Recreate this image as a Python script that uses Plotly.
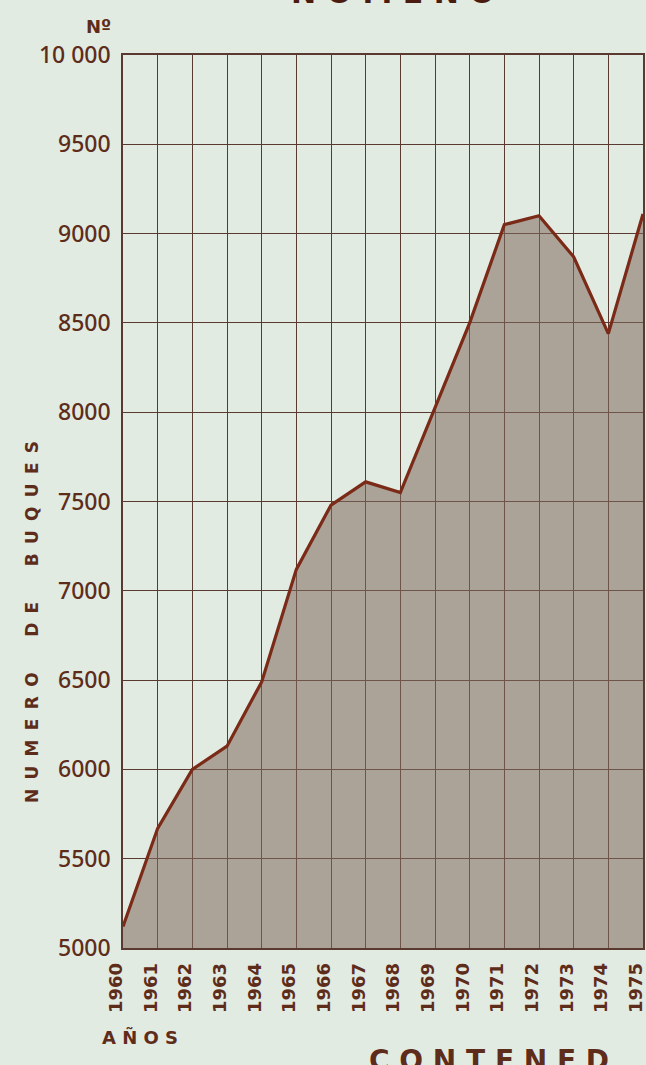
import plotly.graph_objects as go

years = list(range(1960, 1976))
buques = [5120, 5670, 6000, 6130, 6490, 7120, 7480, 7610, 7550, 8020,
          8500, 9050, 9100, 8870, 8440, 9110]
y_ticks = [5000, 5500, 6000, 6500, 7000, 7500, 8000, 8500, 9000, 9500, 10000]
y_ticktext = ["5000", "5500", "6000", "6500", "7000", "7500", "8000", "8500",
              "9000", "9500", "10 000"]
x_ticktext = [str(y) for y in years]

BG = "#e2ebe2"
BROWN = "#5e2c1a"
GRID = "#5a3a30"
LINE = "#7a2a16"

fig = go.Figure()
fig.add_trace(go.Scatter(
    x=years, y=buques, mode="lines",
    line=dict(color=LINE, width=3.2),
    fill="tozeroy", fillcolor="rgba(128,106,94,0.56)",
    hoverinfo="skip"))

fig.update_layout(
    width=646, height=1065,
    margin=dict(l=123, r=3, t=55, b=117),
    paper_bgcolor=BG, plot_bgcolor=BG,
    showlegend=False,
    font=dict(family="DejaVu Sans", color=BROWN),
)
fig.update_xaxes(
    range=[1960, 1975], tickvals=years, ticktext=x_ticktext,
    tickangle=-90, showgrid=True, gridcolor=GRID, gridwidth=1,
    showline=True, linecolor=GRID, linewidth=1.5, mirror=True,
    ticks="", ticklen=0, ticklabelstandoff=6, ticklabelshift=-7,
    ticklabeloverflow="allow", automargin=False,
    tickfont=dict(size=18, color=BROWN, family="DejaVu Sans", weight="bold"),
    zeroline=False)
fig.update_yaxes(
    range=[5000, 10000], tickvals=y_ticks, ticktext=y_ticktext,
    showgrid=True, gridcolor=GRID, gridwidth=1,
    showline=True, linecolor=GRID, linewidth=1.5, mirror=True,
    ticks="", ticklen=0, ticklabelstandoff=6, automargin=False,
    tickfont=dict(size=23, color=BROWN, family="Noto Sans", weight=500),
    zeroline=False)

nb = "&nbsp;&#8201;"
gap = "&nbsp;" * 6
ytitle = gap.join(nb.join(list(w)) for w in ["NUMERO", "DE", "BUQUES"])
fig.add_annotation(
    text="<b>" + ytitle + "</b>", textangle=-90,
    xref="paper", yref="paper", x=-0.175, y=0.365, xanchor="center", yanchor="middle",
    showarrow=False, font=dict(size=17, color=BROWN, family="DejaVu Sans"))
fig.add_annotation(
    text="<b>Nº</b>", xref="paper", yref="paper", x=-0.02, y=1.0,
    xanchor="right", yanchor="bottom", yshift=16, showarrow=False,
    font=dict(size=18, color=BROWN))
fig.add_annotation(
    text="<b>A Ñ O S</b>", xref="paper", yref="paper", x=-0.045, y=0,
    xanchor="left", yanchor="top", yshift=-76, showarrow=False,
    font=dict(size=18, color=BROWN))
fig.add_annotation(
    text="<b>N O M E N O</b>", xref="paper", yref="paper", x=0.52, y=1.0,
    xanchor="center", yanchor="bottom", yshift=43, showarrow=False,
    font=dict(size=30, color="#4a1c10"))
fig.add_annotation(
    text="<b>C O N T E N E D</b>", xref="paper", yref="paper", x=0.47, y=0,
    xanchor="left", yanchor="top", yshift=-94, showarrow=False,
    font=dict(size=28, color=BROWN))

fig.write_html(
    "out.html",
    config={"displayModeBar": False},
    post_script="document.body.style.margin='0';document.body.style.background='%s';" % BG)
